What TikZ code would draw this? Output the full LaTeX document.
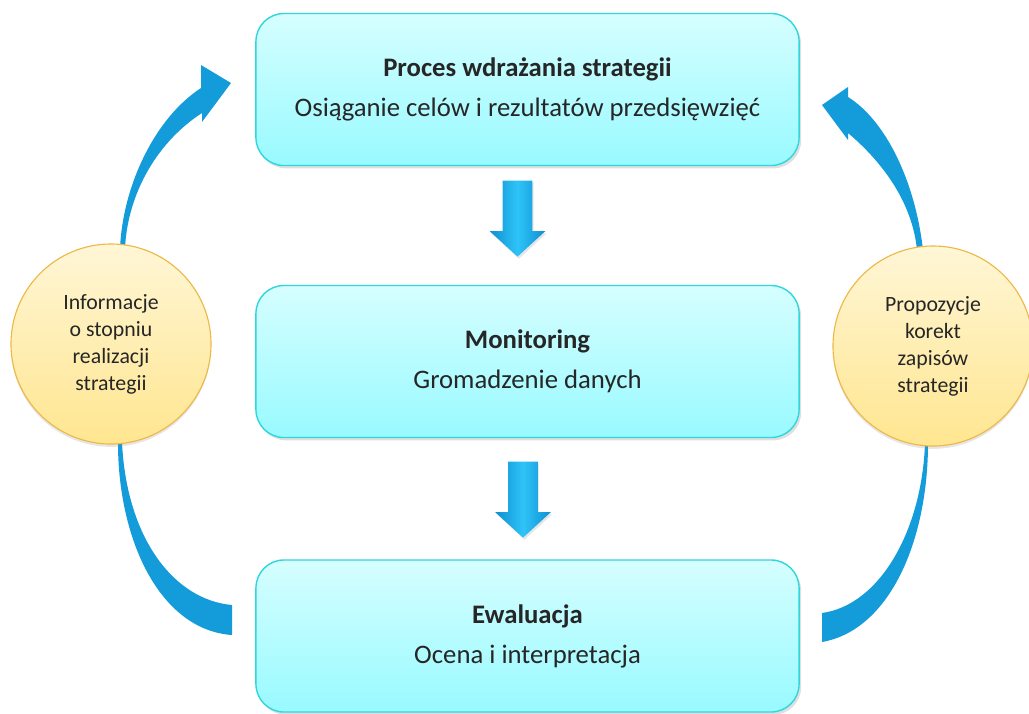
\documentclass[tikz,border=0pt]{standalone}
\usepackage{fontspec}
\setmainfont{Carlito}
\usepackage{xcolor}
\usepackage{tikz}
\usetikzlibrary{shapes.arrows, shadows}
\definecolor{boxtop}{HTML}{D6FEFF}
\definecolor{boxbot}{HTML}{98FAFF}
\definecolor{boxedge}{HTML}{2FD6DC}
\definecolor{cirtop}{HTML}{FFF6D6}
\definecolor{cirbot}{HTML}{FFE690}
\definecolor{ciredge}{HTML}{EDB845}
\definecolor{loopblue}{HTML}{139BDA}
\definecolor{dnlight}{HTML}{2EC4F8}
\definecolor{dndark}{HTML}{0E8FD2}
\definecolor{txt}{HTML}{262626}

\begin{document}
\begin{tikzpicture}[x=0.025cm, y=-0.025cm, text=txt,
    stagebox/.style={draw=boxedge, line width=1pt, rounded corners=0.7cm,
      top color=boxtop, bottom color=boxbot, minimum width=13.575cm,
      minimum height=3.8cm, align=center,
      font=\fontsize{19}{28.5}\selectfont,
      drop shadow={shadow xshift=1.5pt, shadow yshift=-2pt, opacity=0.25}},
    note/.style={circle, draw=ciredge, line width=0.8pt, top color=cirtop,
      bottom color=cirbot, minimum size=5cm, align=center, inner sep=0pt,
      font=\fontsize{15.5}{19.2}\selectfont,
      drop shadow={shadow xshift=0pt, shadow yshift=-2pt, opacity=0.2}},
    downarrow/.style={single arrow, shape border rotate=270, inner sep=0.3625cm,
      minimum height=1.9cm,
      single arrow head extend=0.325cm, single arrow tip angle=95,
      left color=dndark, right color=dndark, middle color=dnlight,
      drop shadow={shadow xshift=1pt, shadow yshift=-1.5pt, opacity=0.2}}]
  \useasboundingbox (0,0) rectangle (1029,713);
  % curved return arrows first, so the circles sit on top of them
  % left one: from the bottom box up to the top box
  \fill[loopblue] (232,635) .. controls (160,630) and (118,540) .. (118,443)
    .. controls (114,380) and (114,310) .. (120,248)
    .. controls (123,185) and (155,118) .. (201,88)
    -- (201,65) -- (231,83) -- (202,122) -- (202,113)
    .. controls (160,140) and (128,190) .. (125,248)
    .. controls (121,310) and (121,380) .. (122,443)
    .. controls (127,540) and (175,600) .. (232,605) -- cycle;
  % right one: mirror image, a bit lower
  \fill[loopblue] (822,642) .. controls (890,630) and (928,540) .. (928,443)
    .. controls (930,380) and (928,310) .. (923,250)
    .. controls (915,180) and (885,120) .. (848,97)
    -- (848,87) -- (822,105) -- (848,140) -- (848,133)
    .. controls (880,160) and (912,200) .. (917,250)
    .. controls (922,310) and (924,380) .. (925,443)
    .. controls (922,530) and (880,605) .. (822,613) -- cycle;
  % the three stages
  \node[stagebox] (proces) at (527.5,89.5) {\textbf{Proces wdrażania strategii}\\Osiąganie celów i rezultatów przedsięwzięć};
  \node[stagebox] (monit) at (527.5,361.5) {\textbf{Monitoring}\\Gromadzenie danych};
  \node[stagebox] (ewal) at (527.5,636) {\textbf{Ewaluacja}\\Ocena i interpretacja};
  % block arrows between the stages
  \node[downarrow, anchor=tip] (dn1) at (517.5,257) {};
  \node[downarrow, anchor=tip] (dn2) at (523,538) {};
  % side notes
  \node[note] (info) at (111,344) {Informacje\\o stopniu\\realizacji\\strategii};
  \node[note] (korekta) at (933,346) {Propozycje\\korekt\\zapisów\\strategii};
\end{tikzpicture}
\end{document}
